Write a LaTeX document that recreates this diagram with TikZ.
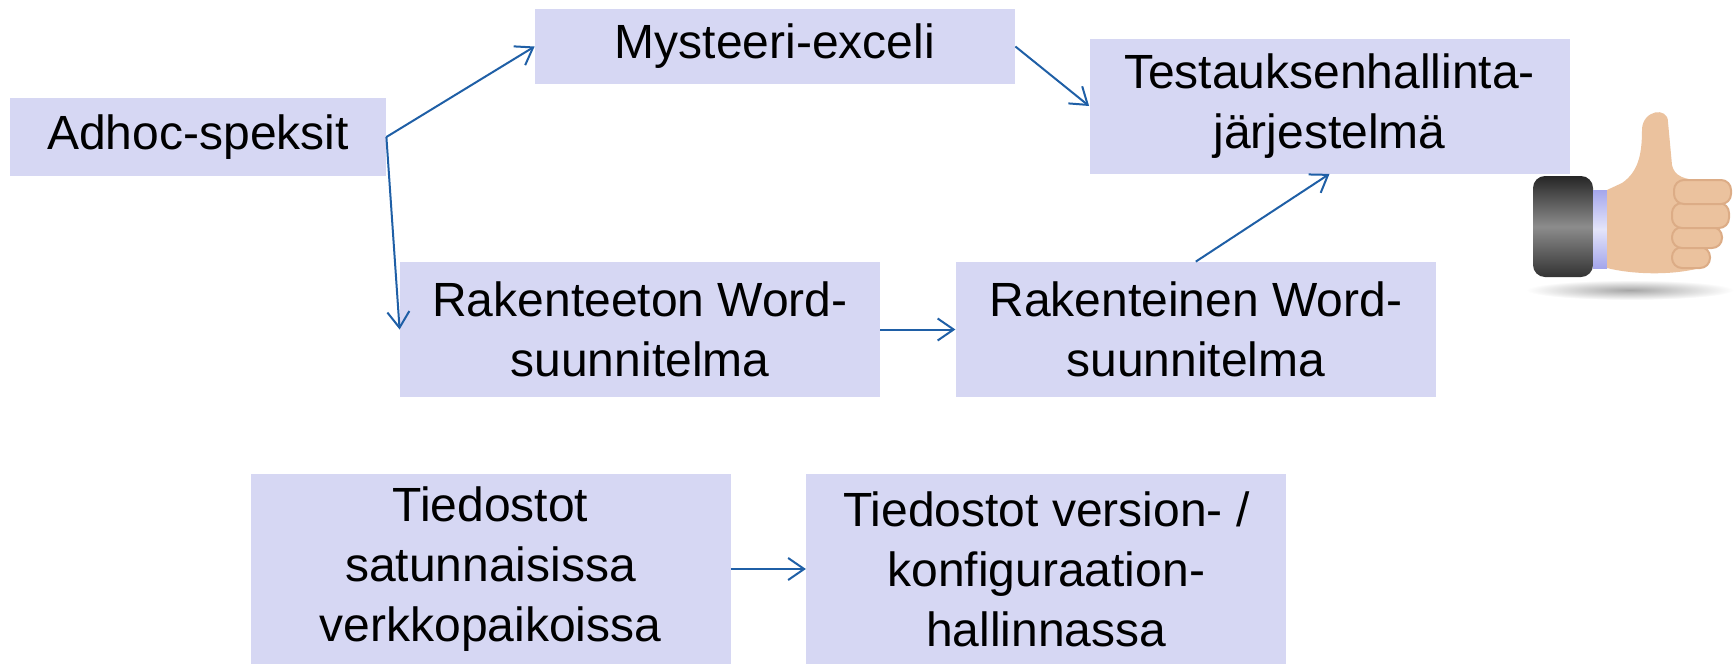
\documentclass[tikz,border=0pt]{standalone}
\usepackage{fontspec}
\setmainfont{Liberation Sans}
\usetikzlibrary{arrows.meta,positioning}

\definecolor{boxfill}{HTML}{D6D7F3}
\definecolor{arrowblue}{HTML}{1F5FA6}
\definecolor{skin}{HTML}{EBC29E}
\definecolor{skindark}{HTML}{D6A27C}
\definecolor{cufflav}{HTML}{A4A6EC}

\begin{document}
\begin{tikzpicture}[
    x=0.5pt, y=-0.5pt,
    every node/.style={fill=boxfill, minimum width=240pt, minimum height=67.5pt, align=center, inner sep=0pt, font=\fontsize{24}{30}\selectfont},
    arrow/.style={-{Straight Barb[length=8pt,width=11pt]}, draw=arrowblue, line width=1pt}
]
\useasboundingbox (0,0) rectangle (1736,665);

\node (adhoc) [minimum width=188pt, minimum height=39pt] at (198,137) {Adhoc-speksit};
\node (excel) [minimum height=37.5pt] at (775,46.5) {Mysteeri-exceli};
\node (tool) at (1329.5,106) {Testauksenhallinta-\\järjestelmä};
\node (word1) at (640,329.5) {Rakenteeton Word-\\suunnitelma};
\node (word2) [right=37.5pt of word1] {Rakenteinen Word-\\suunnitelma};
\node (files1) [minimum height=95pt] at (490.5,569) {Tiedostot\\satunnaisissa\\verkkopaikoissa};
\node (files2) [minimum height=95pt, right=37.5pt of files1] {Tiedostot version- /\\konfiguraation-\\hallinnassa};

\draw[arrow] (adhoc.east) -- (excel.west);
\draw[arrow] (adhoc.east) -- (word1.west);
\draw[arrow] (excel.east) -- (tool.west);
\draw[arrow] (word1) -- (word2);
\draw[arrow] (word2.north) -- (tool.south);
\draw[arrow] (files1) -- (files2);

% thumbs up
\shade[inner color=black!35, outer color=white] (1630,290) ellipse [x radius=52pt, y radius=5pt];
\shade[top color=black!85, bottom color=black!80, middle color=black!45, rounded corners=6pt] (1533,176) rectangle (1593,277);
\shade[top color=cufflav, bottom color=cufflav, middle color=cufflav!30!white] (1593,190) rectangle (1607,268);
\fill[skin] (1607,190) -- (1622,183) .. controls (1638,172) and (1642,155) .. (1642,130)
    .. controls (1642,110) and (1668,106) .. (1668,122) -- (1672,165)
    .. controls (1674,176) and (1685,180) .. (1700,180) -- (1700,268)
    .. controls (1670,276) and (1630,274) .. (1607,268) -- cycle;
\filldraw[draw=skindark!70!skin, fill=skin, line width=1pt, rounded corners=5pt] (1672,247) rectangle (1710,268);
\filldraw[draw=skindark!70!skin, fill=skin, line width=1pt, rounded corners=5pt] (1672,227) rectangle (1722,248);
\filldraw[draw=skindark!70!skin, fill=skin, line width=1pt, rounded corners=5pt] (1672,203) rectangle (1729,228);
\filldraw[draw=skindark!70!skin, fill=skin, line width=1pt, rounded corners=5pt] (1674,180) rectangle (1731,204);
\end{tikzpicture}
\end{document}
